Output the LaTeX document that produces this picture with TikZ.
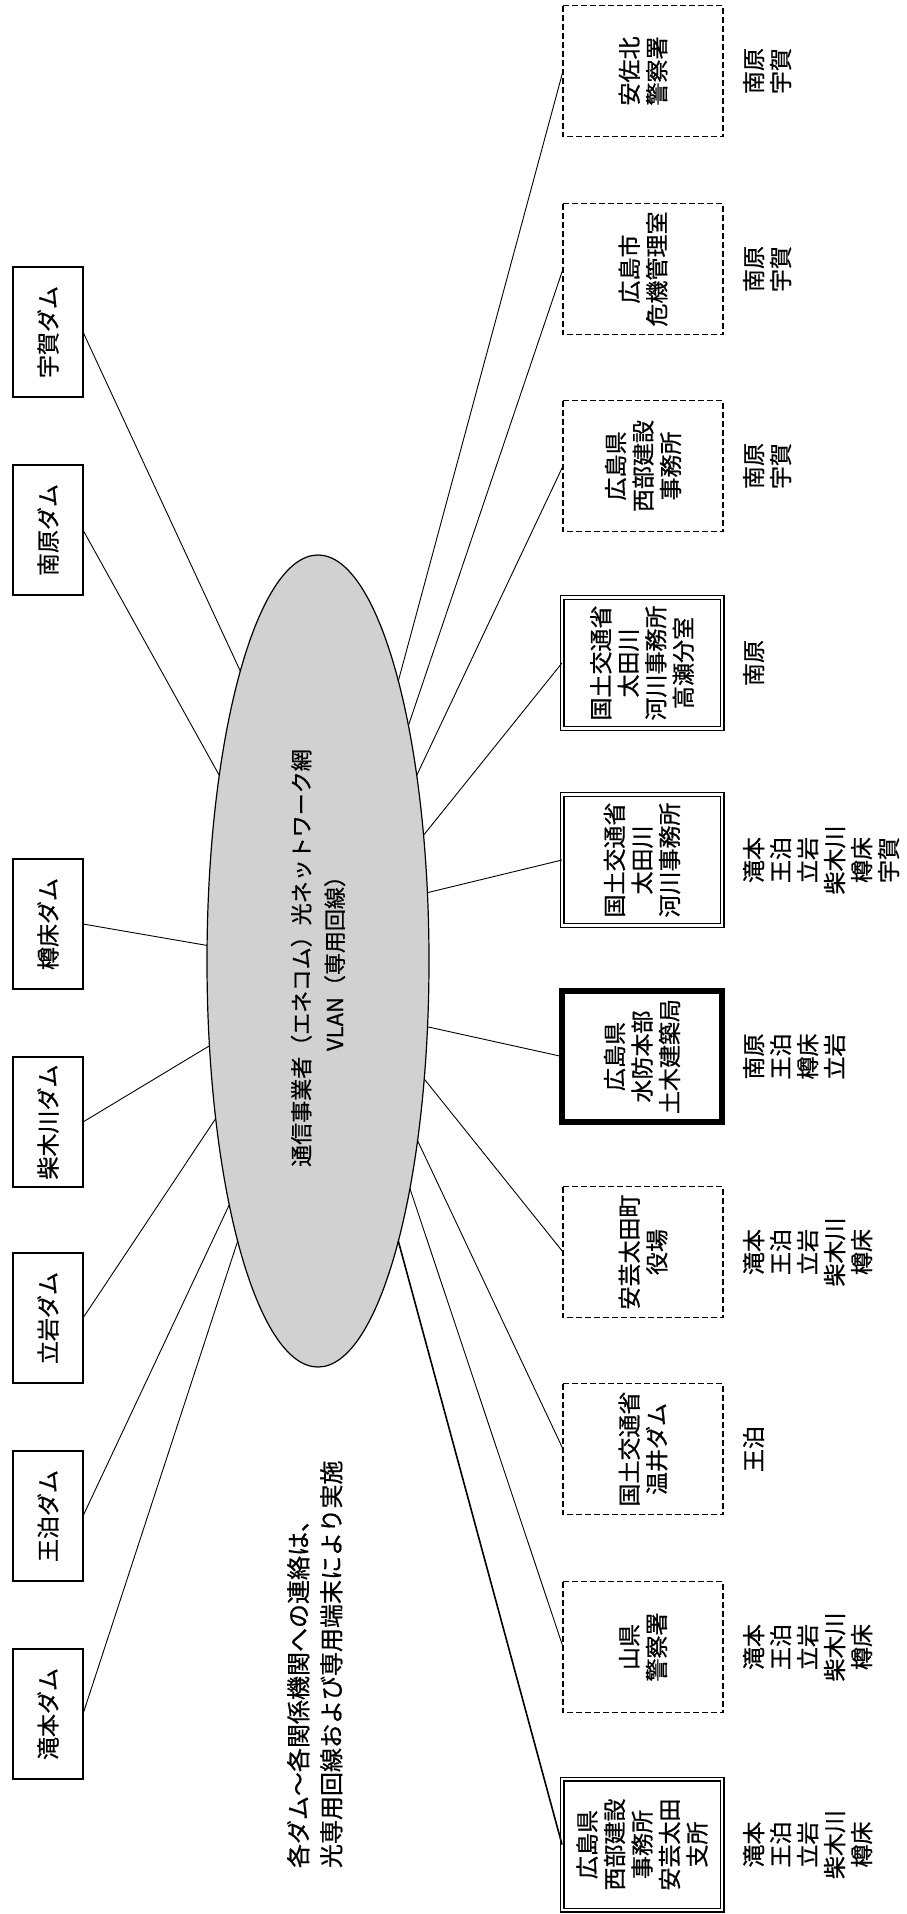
\documentclass[tikz,border=0pt]{standalone}
\usepackage{fontspec}
\setmainfont[FakeBold=0.7]{Noto Sans CJK JP}
\usetikzlibrary{shapes.geometric}
\begin{document}
\begin{tikzpicture}[x=1pt,y=-1pt,
  every node/.style={inner sep=0pt, outer sep=0pt},
  dambox/.style={draw, line width=2pt, rotate=90, minimum width=130pt, minimum height=70pt, align=center, font=\fontsize{23}{27.5}\selectfont},
  orgbase/.style={rotate=90, minimum width=131pt, minimum height=160pt, align=center, font=\fontsize{23}{27.5}\selectfont},
  dashbox/.style={orgbase, draw, line width=1.6pt, dash pattern=on 6pt off 3pt},
  dblbox/.style={orgbase, draw, line width=1.3pt, double, double distance=2.4pt},
  thickbox/.style={orgbase, draw, line width=5.5pt},
  damlist/.style={rotate=90, anchor=north, align=center, font=\fontsize{23}{27}\selectfont},
  link/.style={line width=0.9pt},
  boldlink/.style={line width=1.6pt},
]
\useasboundingbox (0,0) rectangle (906,1914);

% network ellipse
\node[ellipse, draw, line width=1.2pt, fill=black!18, minimum width=222pt, minimum height=812pt] (net) at (318,961) {};
\node[rotate=90, align=center, font=\fontsize{22}{33.5}\selectfont] (nettext) at (318,958) {通信事業者（エネコム）光ネットワーク網\\VLAN（専用回線）};

% dams (left column)
\node[dambox] (uga) at (48,332) {宇賀ダム};
\node[dambox] (minami) at (48,530) {南原ダム};
\node[dambox] (taru) at (48,924) {樽床ダム};
\node[dambox] (shibaki) at (48,1122) {柴木川ダム};
\node[dambox] (tate) at (48,1318) {立岩ダム};
\node[dambox] (oodo) at (48,1516) {王泊ダム};
\node[dambox] (taki) at (48,1714) {滝本ダム};

% organisations (right column)
\node[dashbox] (asakita) at (643,71) {安佐北\\警察署};
\node[dashbox] (kiki) at (643,269) {広島市\\危機管理室};
\node[dashbox] (seibu) at (643,466) {広島県\\西部建設\\事務所};
\node[dblbox] (takase) at (642,663) {国土交通省\\太田川\\河川事務所\\高瀬分室};
\node[dblbox] (oota) at (642,860) {国土交通省\\太田川\\河川事務所};
\node[thickbox] (suibo) at (642,1056.5) {広島県\\水防本部\\土木建築局};
\node[dashbox] (yakuba) at (643,1252) {安芸太田町\\役場};
\node[dashbox] (nukui) at (643,1449) {国土交通省\\温井ダム};
\node[dashbox] (yamagata) at (643,1647) {山県\\警察署};
\node[dblbox] (shisho) at (642,1844.5) {広島県\\西部建設\\事務所\\安芸太田\\支所};

% dam lists
\node[damlist] (l1) at (743,71) {南原\\宇賀};
\node[damlist] (l2) at (743,269) {南原\\宇賀};
\node[damlist] (l3) at (743,466) {南原\\宇賀};
\node[damlist] (l4) at (743,663) {南原};
\node[damlist] (l5) at (743,860) {滝本\\王泊\\立岩\\柴木川\\樽床\\宇賀};
\node[damlist] (l6) at (743,1056.5) {南原\\王泊\\樽床\\立岩};
\node[damlist] (l7) at (743,1252) {滝本\\王泊\\立岩\\柴木川\\樽床};
\node[damlist] (l8) at (743,1449) {王泊};
\node[damlist] (l9) at (743,1647) {滝本\\王泊\\立岩\\柴木川\\樽床};
\node[damlist] (l10) at (743,1844.5) {滝本\\王泊\\立岩\\柴木川\\樽床};

% note
\node[rotate=90, anchor=north west, align=left, font=\fontsize{24}{33}\selectfont] (note) at (287,1868) {各ダム～各関係機関への連絡は、\\光専用回線および専用端末により実施};

% connectors left
\draw[link] (uga.south) -- (net.105.1);
\draw[link] (minami.south) -- (net.118.7);
\draw[link] (taru.south) -- (net.172.8);
\draw[link] (shibaki.south) -- (net.218.3);
\draw[link] (tate.south) -- (net.237.7);
\draw[link] (oodo.south) -- (net.250.0);
\draw[link] (taki.south) -- (net.254.7);

% connectors right
\draw[link] (net.74.6) -- (asakita.north);
\draw[link] (net.69.9) -- (kiki.north);
\draw[link] (net.62.5) -- (seibu.north);
\draw[link] (net.50.3) -- (takase.north);
\draw[link] (net.32.4) -- (oota.north);
\draw[link] (net.-31.0) -- (suibo.north);
\draw[link] (net.-48.0) -- (yakuba.north);
\draw[link] (net.-61.45) -- (nukui.north);
\draw[link] (net.-68.8) -- (yamagata.north);
\draw[boldlink] (net.-74.56) -- (shisho.north);
\end{tikzpicture}
\end{document}
